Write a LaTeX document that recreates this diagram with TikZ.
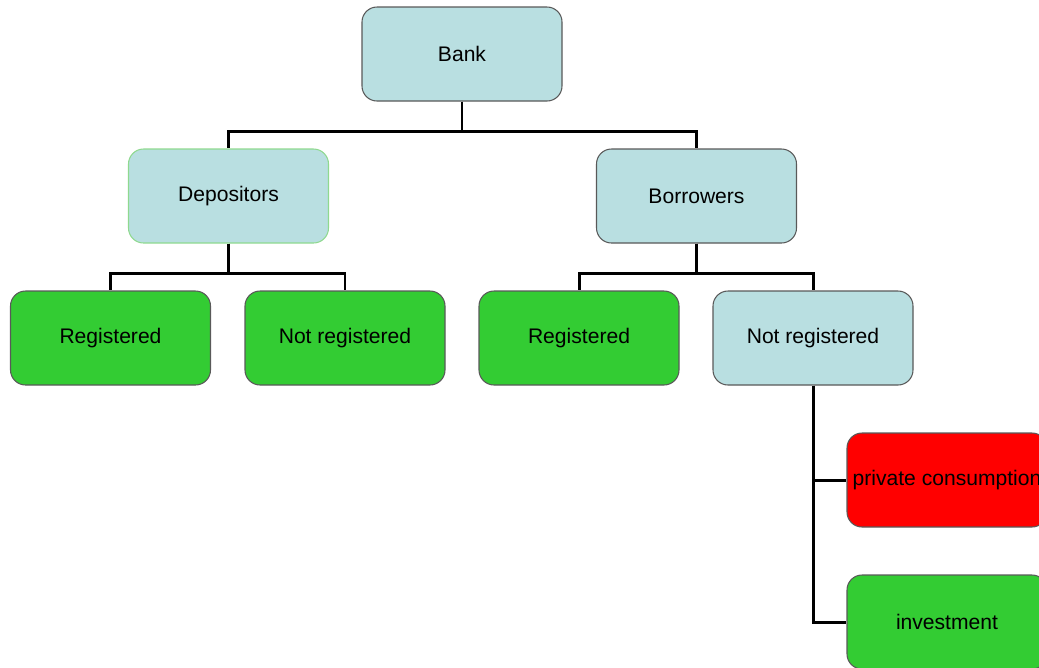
\documentclass[tikz,border=0pt]{standalone}
\usepackage{fontspec}
\setmainfont{Liberation Sans}
\definecolor{xanhnhat}{HTML}{B9DFE1}
\definecolor{xanhla}{HTML}{33CC33}
\definecolor{vienla}{HTML}{8FD98F}
\definecolor{do}{HTML}{FF0000}
\begin{document}
\begin{tikzpicture}[x=0.2mm,y=-0.2mm,declare function={tren=30;},font=\fontsize{12}{14}\selectfont]
	\tikzset{hop/.style={draw=black!65,line width=0.6pt,rounded corners=0.3cm,minimum width=4cm,minimum height=1.88cm,inner sep=1pt,fill=xanhnhat},
		la/.style={hop,fill=xanhla},
		noi/.style={line width=1.7pt}}
	\useasboundingbox (0,0) rectangle (1039,667);
	\clip (0,0) rectangle (1039,667);
	
	% Các hộp (Nodes)
	\path (462,54) node[hop] (Bank) {Bank}
	
	% Cấp 1
	(228.5,196) node[hop,draw=vienla] (Dep) {Depositors}
	(696.5,196) node[hop] (Bor) {Borrowers}
	
	% Cấp 2
	(110.5,338) node[la] (DepR) {Registered}
	(345,338) node[la] (DepN) {Not registered}
	(579,338) node[la] (BorR) {Registered}
	(813,338) node[hop] (BorN) {Not registered}
	
	% Cấp 3
	(947,480) node[hop,fill=do] (Priv) {private consumption}
	(947,622) node[la] (Inv) {investment};
	
	% Các đường nối
	\draw[noi] (Bank.south) -- ++(0,tren) -| (Dep.north);
	\draw[noi] (Bank.south) -- ++(0,tren) -| (Bor.north);
	
	\draw[noi] (Dep.south) -- ++(0,tren) -| (DepR.north);
	\draw[noi] (Dep.south) -- ++(0,tren) -| (DepN.north);
	
	\draw[noi] (Bor.south) -- ++(0,tren) -| (BorR.north);
	\draw[noi] (Bor.south) -- ++(0,tren) -| (BorN.north);
	
	\draw[noi] (BorN.south) |- (Priv.west);
	\draw[noi] (BorN.south) |- (Inv.west);
\end{tikzpicture}
\end{document}
